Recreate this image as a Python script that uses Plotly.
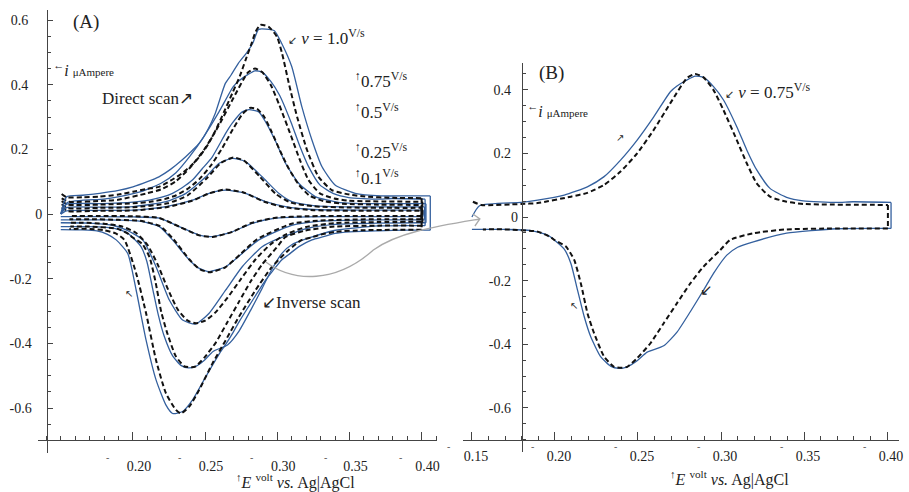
import plotly.graph_objects as go

W, H = 909, 492

# ---------------- data (E in volt, i in microampere) ----------------
# scan rate 1.0 V/s  (simulation = blue solid, experiment = black dashed)
E_sim_10 = [0.150, 0.154, 0.165, 0.177, 0.190, 0.200, 0.210, 0.218, 0.226, 0.234, 0.240, 0.246, 0.252, 0.257, 0.264, 0.268, 0.273, 0.279, 0.283, 0.287, 0.292, 0.298, 0.303, 0.310, 0.317, 0.324, 0.331, 0.340, 0.354, 0.372, 0.390, 0.406,
            0.406, 0.390, 0.370, 0.350, 0.340, 0.332, 0.324, 0.315, 0.308, 0.303, 0.297, 0.292, 0.286, 0.280, 0.274, 0.269, 0.264, 0.260, 0.2505, 0.2413, 0.2344, 0.2275, 0.2229, 0.216, 0.2091, 0.2022, 0.1964, 0.1884, 0.182, 0.175, 0.165, 0.150]
I_sim_10 = [0.000, 0.053, 0.058, 0.064, 0.073, 0.084, 0.100, 0.115, 0.138, 0.167, 0.192, 0.219, 0.262, 0.311, 0.404, 0.430, 0.466, 0.500, 0.528, 0.571, 0.572, 0.567, 0.528, 0.456, 0.332, 0.229, 0.146, 0.090, 0.064, 0.056, 0.056, 0.056,
            -0.050, -0.050, -0.052, -0.055, -0.060, -0.070, -0.080, -0.101, -0.125, -0.142, -0.175, -0.204, -0.245, -0.287, -0.330, -0.369, -0.405, -0.431, -0.503, -0.575, -0.611, -0.617, -0.591, -0.513, -0.390, -0.235, -0.122, -0.080, -0.062, -0.052, -0.049, -0.048]
E_exp_10 = [0.1506, 0.154, 0.165, 0.177, 0.190, 0.200, 0.210, 0.218, 0.226, 0.234, 0.240, 0.246, 0.252, 0.2574, 0.263, 0.2688, 0.274, 0.278, 0.282, 0.285, 0.2883, 0.2941, 0.2998, 0.3033, 0.308, 0.3137, 0.3206, 0.3286, 0.3378, 0.350, 0.3608, 0.380, 0.400,
            0.400, 0.380, 0.360, 0.340, 0.330, 0.324, 0.317, 0.3079, 0.2964, 0.2850, 0.2734, 0.2643, 0.2551, 0.2459, 0.239, 0.2332, 0.2298, 0.2229, 0.216, 0.2091, 0.2022, 0.1941, 0.188, 0.180, 0.170, 0.160, 0.156]
I_exp_10 = [0.062, 0.052, 0.052, 0.054, 0.060, 0.069, 0.078, 0.084, 0.103, 0.126, 0.148, 0.177, 0.215, 0.260, 0.315, 0.373, 0.426, 0.476, 0.525, 0.564, 0.585, 0.579, 0.548, 0.497, 0.404, 0.301, 0.198, 0.115, 0.074, 0.060, 0.054, 0.050, 0.049,
            -0.049, -0.049, -0.050, -0.055, -0.064, -0.072, -0.080, -0.111, -0.163, -0.235, -0.318, -0.390, -0.462, -0.544, -0.596, -0.617, -0.606, -0.555, -0.452, -0.307, -0.183, -0.080, -0.060, -0.050, -0.046, -0.046, -0.046]

# scan rate 0.75 V/s (also shown enlarged in panel B)
E_sim_075 = [0.150, 0.1546, 0.1796, 0.1896, 0.2056, 0.2195, 0.2296, 0.2395, 0.2495, 0.2595, 0.2695, 0.2735, 0.2795, 0.2845, 0.2895, 0.2955, 0.3015, 0.3095, 0.3155, 0.3215, 0.3295, 0.3395, 0.3495, 0.3695, 0.3795, 0.4024,
             0.4024, 0.3696, 0.3395, 0.3195, 0.3100, 0.3035, 0.2955, 0.2895, 0.2815, 0.2735, 0.2655, 0.2555, 0.2495, 0.2435, 0.2385, 0.2335, 0.2275, 0.2215, 0.2176, 0.2136, 0.2096, 0.2056, 0.1996, 0.1956, 0.1856, 0.1696, 0.150]
I_sim_075 = [0.000, 0.0355, 0.046, 0.053, 0.069, 0.095, 0.127, 0.179, 0.242, 0.315, 0.394, 0.412, 0.431, 0.443, 0.439, 0.410, 0.368, 0.284, 0.211, 0.148, 0.090, 0.062, 0.051, 0.046, 0.048, 0.046,
             -0.036, -0.037, -0.051, -0.078, -0.095, -0.120, -0.177, -0.230, -0.298, -0.362, -0.405, -0.425, -0.452, -0.471, -0.476, -0.469, -0.439, -0.376, -0.313, -0.230, -0.146, -0.101, -0.072, -0.057, -0.043, -0.039, -0.039]
E_exp_075 = [0.1506, 0.1556, 0.1796, 0.1896, 0.2096, 0.2195, 0.2296, 0.2395, 0.2495, 0.2595, 0.2695, 0.2795, 0.2845, 0.2895, 0.2955, 0.3015, 0.3095, 0.3155, 0.3215, 0.3295, 0.3395, 0.3495, 0.4005,
             0.4005, 0.3696, 0.3395, 0.3195, 0.3055, 0.2995, 0.2895, 0.2815, 0.2735, 0.2655, 0.2575, 0.2495, 0.2435, 0.2405, 0.2356, 0.2296, 0.2236, 0.2196, 0.2156, 0.2116, 0.2066, 0.1996, 0.1976, 0.1896, 0.1696, 0.1566]
I_exp_075 = [0.048, 0.038, 0.041, 0.044, 0.064, 0.076, 0.101, 0.143, 0.200, 0.274, 0.358, 0.437, 0.450, 0.439, 0.399, 0.336, 0.242, 0.169, 0.106, 0.064, 0.048, 0.041, 0.038,
             -0.036, -0.036, -0.039, -0.051, -0.072, -0.104, -0.156, -0.209, -0.271, -0.334, -0.397, -0.444, -0.471, -0.474, -0.471, -0.439, -0.366, -0.303, -0.209, -0.135, -0.093, -0.072, -0.064, -0.046, -0.039, -0.039]

# scan rate 0.5 V/s
E_sim_05 = [0.150, 0.154, 0.177, 0.200, 0.2114, 0.220, 0.2274, 0.2343, 0.2412, 0.248, 0.255, 0.2643, 0.2688, 0.2757, 0.2804, 0.2872, 0.2919, 0.2988, 0.3033, 0.3057, 0.3148, 0.3263, 0.3424, 0.3608, 0.380, 0.403,
            0.403, 0.370, 0.340, 0.320, 0.2987, 0.2895, 0.2757, 0.2643, 0.2528, 0.2436, 0.2344, 0.2252, 0.216, 0.2068, 0.1953, 0.185, 0.170, 0.150]
I_sim_05 = [0.000, 0.030, 0.032, 0.037, 0.043, 0.052, 0.064, 0.082, 0.105, 0.140, 0.177, 0.250, 0.281, 0.316, 0.323, 0.316, 0.285, 0.225, 0.180, 0.157, 0.095, 0.054, 0.036, 0.032, 0.032, 0.032,
            -0.027, -0.028, -0.032, -0.045, -0.080, -0.101, -0.163, -0.235, -0.307, -0.340, -0.328, -0.266, -0.163, -0.080, -0.049, -0.034, -0.028, -0.027]
E_exp_05 = [0.1506, 0.155, 0.177, 0.200, 0.212, 0.222, 0.230, 0.238, 0.246, 0.254, 0.262, 0.270, 0.276, 0.281, 0.286, 0.291, 0.296, 0.302, 0.308, 0.315, 0.322, 0.332, 0.345, 0.370, 0.400,
            0.400, 0.370, 0.340, 0.320, 0.305, 0.295, 0.285, 0.275, 0.265, 0.257, 0.250, 0.2436, 0.238, 0.231, 0.224, 0.217, 0.210, 0.202, 0.192, 0.180, 0.165, 0.156]
I_exp_05 = [0.040, 0.029, 0.029, 0.033, 0.038, 0.046, 0.058, 0.078, 0.108, 0.150, 0.205, 0.268, 0.310, 0.328, 0.325, 0.300, 0.255, 0.195, 0.140, 0.090, 0.058, 0.040, 0.032, 0.029, 0.028,
            -0.024, -0.025, -0.028, -0.040, -0.065, -0.095, -0.140, -0.200, -0.262, -0.305, -0.330, -0.338, -0.330, -0.295, -0.230, -0.155, -0.095, -0.058, -0.038, -0.030, -0.027, -0.027]

# scan rate 0.25 V/s
E_sim_025 = [0.150, 0.154, 0.177, 0.200, 0.2229, 0.2367, 0.2505, 0.2597, 0.2688, 0.278, 0.2895, 0.301, 0.3102, 0.325, 0.350, 0.380, 0.402,
             0.402, 0.370, 0.330, 0.310, 0.2872, 0.2757, 0.2643, 0.2528, 0.2459, 0.2390, 0.2274, 0.2183, 0.2045, 0.190, 0.170, 0.150]
I_sim_025 = [0.000, 0.020, 0.021, 0.023, 0.038, 0.064, 0.115, 0.157, 0.172, 0.162, 0.115, 0.064, 0.038, 0.026, 0.022, 0.022, 0.022,
             -0.018, -0.018, -0.022, -0.035, -0.080, -0.122, -0.163, -0.178, -0.168, -0.142, -0.080, -0.039, -0.022, -0.019, -0.018, -0.018]
E_exp_025 = [0.1506, 0.155, 0.177, 0.200, 0.224, 0.238, 0.251, 0.261, 0.2695, 0.277, 0.288, 0.299, 0.309, 0.325, 0.350, 0.380, 0.400,
             0.400, 0.370, 0.330, 0.310, 0.286, 0.275, 0.264, 0.253, 0.246, 0.239, 0.228, 0.219, 0.205, 0.190, 0.170, 0.156]
I_exp_025 = [0.030, 0.018, 0.019, 0.021, 0.033, 0.058, 0.110, 0.158, 0.175, 0.165, 0.115, 0.062, 0.036, 0.024, 0.020, 0.019, 0.019,
             -0.016, -0.016, -0.020, -0.030, -0.078, -0.122, -0.165, -0.180, -0.170, -0.140, -0.078, -0.038, -0.021, -0.018, -0.016, -0.016]

# scan rate 0.1 V/s
E_sim_01 = [0.150, 0.154, 0.177, 0.200, 0.2229, 0.2412, 0.2527, 0.2643, 0.278, 0.2919, 0.3057, 0.325, 0.360, 0.401,
            0.401, 0.360, 0.320, 0.2988, 0.2826, 0.2688, 0.255, 0.2459, 0.2321, 0.2183, 0.200, 0.175, 0.150]
I_sim_01 = [0.000, 0.010, 0.011, 0.012, 0.023, 0.043, 0.064, 0.074, 0.064, 0.038, 0.023, 0.014, 0.012, 0.012,
            -0.008, -0.008, -0.009, -0.013, -0.029, -0.055, -0.070, -0.065, -0.039, -0.013, -0.009, -0.008, -0.008]
E_exp_01 = [0.1506, 0.155, 0.177, 0.200, 0.223, 0.241, 0.253, 0.2643, 0.277, 0.291, 0.305, 0.325, 0.360, 0.400,
            0.400, 0.360, 0.320, 0.298, 0.282, 0.269, 0.255, 0.246, 0.232, 0.218, 0.200, 0.175, 0.156]
I_exp_01 = [0.020, 0.009, 0.010, 0.011, 0.021, 0.041, 0.064, 0.076, 0.066, 0.038, 0.021, 0.012, 0.010, 0.010,
            -0.006, -0.006, -0.007, -0.012, -0.028, -0.055, -0.071, -0.066, -0.039, -0.012, -0.007, -0.006, -0.006]

# tick labels
xA_ticks = [0.20, 0.25, 0.30, 0.35, 0.40]
xA_text = ["0.20", "0.25", "0.30", "0.35", "0.40"]
xB_ticks = [0.15, 0.20, 0.25, 0.30, 0.35, 0.40]
xB_text = ["0.15", "0.20", "0.25", "0.30", "0.35", "0.40"]
yA_ticks = [-0.6, -0.4, -0.2, 0.0, 0.2, 0.4, 0.6]
yA_text = ["-0.6", "-0.4", "-0.2", "0", "0.2", "0.4", "0.6"]
yB_ticks = [-0.6, -0.4, -0.2, 0.0, 0.2, 0.4]
yB_text = ["-0.6", "-0.4", "-0.2", "0", "0.2", "0.4"]

# ---------------- styling ----------------
BLUE = "#34609e"
BLACK = "#111111"
SERIF = "'Liberation Serif', 'Times New Roman', serif"
NB = "\u00a0"  # label padding (the original labels sit at uneven distances from the axis)


def pad(labels, pads):
    return [t + NB * p for t, p in zip(labels, pads)]


fig = go.Figure()

panelA = [(E_sim_01, I_sim_01, E_exp_01, I_exp_01),
          (E_sim_025, I_sim_025, E_exp_025, I_exp_025),
          (E_sim_05, I_sim_05, E_exp_05, I_exp_05),
          (E_sim_075, I_sim_075, E_exp_075, I_exp_075),
          (E_sim_10, I_sim_10, E_exp_10, I_exp_10)]


def turn_index(E):
    # index where the sweep reverses (the potential value is repeated)
    for k in range(len(E) - 1):
        if E[k] == E[k + 1]:
            return k
    return len(E) - 1


def add_curve(E, I, xa, ya, line):
    k = turn_index(E)
    smooth = dict(line, shape="spline", smoothing=0.55)
    straight = dict(line, shape="linear")
    for xs, ys, ln in ((E[:k + 1], I[:k + 1], smooth),
                       (E[k:k + 2], I[k:k + 2], straight),
                       (E[k + 1:], I[k + 1:], smooth)):
        fig.add_trace(go.Scatter(x=xs, y=ys, mode="lines", xaxis=xa, yaxis=ya,
                                 line=ln, hoverinfo="skip", showlegend=False))


def add_pair(es, is_, ee, ie, xa, ya):
    add_curve(es, is_, xa, ya, dict(color=BLUE, width=1.3))
    add_curve(ee, ie, xa, ya, dict(color=BLACK, width=2.0, dash="5px,3px"))


for es, is_, ee, ie in panelA:
    add_pair(es, is_, ee, ie, "x", "y")
add_pair(E_sim_075, I_sim_075, E_exp_075, I_exp_075, "x2", "y2")


def px2x(px):
    return px / W


def px2y(py):
    return 1 - py / H


axis_common = dict(showgrid=False, zeroline=False, showline=True, linecolor="#444", linewidth=1,
                   ticks="inside", tickcolor="#444", tickwidth=1, anchor="free",
                   tickfont=dict(family=SERIF, size=14, color="#222"))

minor_xA = [round(0.14 + 0.01 * k, 2) for k in range(28)]
minor_xB = [round(0.15 + 0.01 * k, 2) for k in range(26)]
minor_y = [round(-0.70 + 0.05 * k, 2) for k in range(28)]

fig.update_layout(
    width=W, height=H, margin=dict(l=0, r=0, t=0, b=0),
    paper_bgcolor="white", plot_bgcolor="white", showlegend=False,
    xaxis=dict(axis_common, domain=[px2x(38), px2x(439)], range=[0.1341, 0.4107],
               position=px2y(440.3), tickvals=xA_ticks, ticktext=xA_text, ticklen=8,
               ticklabelstandoff=13, ticklabelshift=6,
               minor=dict(tickvals=minor_xA, ticks="inside", ticklen=4, tickcolor="#444")),
    yaxis=dict(axis_common, domain=[px2y(453), px2y(10)], range=[-0.7392, 0.631],
               position=px2x(47.2), tickvals=yA_ticks,
               ticktext=pad(yA_text, [3, 3, 3, 0, 4, 4, 4]), ticklen=5,
               ticklabelstandoff=2,
               minor=dict(tickvals=minor_y, ticks="inside", ticklen=3, tickcolor="#444")),
    xaxis2=dict(axis_common, domain=[px2x(465), px2x(903)], range=[0.1446, 0.4072],
                position=px2y(440), tickvals=xB_ticks, ticktext=xB_text, ticklen=8,
                ticklabelstandoff=3, ticklabelshift=4,
                minor=dict(tickvals=minor_xB, ticks="inside", ticklen=4, tickcolor="#444")),
    yaxis2=dict(axis_common, domain=[px2y(452), px2y(63)], range=[-0.739, 0.4843],
                position=px2x(524), tickvals=yB_ticks,
                ticktext=pad(yB_text, [2, 2, 2, 0, 2, 2]), ticklen=5,
                ticklabelstandoff=1,
                minor=dict(tickvals=minor_y, ticks="inside", ticklen=3, tickcolor="#444")),
)


# ---------------- text ----------------
def ann(text, x, y, size=16, xanchor="center", color="#222"):
    fig.add_annotation(text=text, x=px2x(x), y=px2y(y), xref="paper", yref="paper",
                       xanchor=xanchor, yanchor="middle", showarrow=False,
                       font=dict(family=SERIF, size=size, color=color))


ann("(A)", 86, 22, 19)
ann("(B)", 554, 73, 19)
ann("<sup>←</sup><i>i</i> <span style='font-size:11px'>μAmpere</span>", 51, 69, 16, "left")
ann("<sup>←</sup><i>i</i> <span style='font-size:11px'>μAmpere</span>", 527, 110, 16, "left")
ann("Direct scan↗", 148, 99, 17)
ann("<span style='font-size:11px'>↙</span> <i>v</i> = 1.0<sup>V/s</sup>", 287, 37, 17, "left")
ann("<sup>↑</sup>0.75<sup>V/s</sup>", 355, 80, 17, "left")
ann("<sup>↑</sup>0.5<sup>V/s</sup>", 355, 111, 17, "left")
ann("<sup>↑</sup>0.25<sup>V/s</sup>", 355, 151, 17, "left")
ann("<sup>↑</sup>0.1<sup>V/s</sup>", 355, 177, 17, "left")
ann("↙Inverse scan", 313, 302, 17)
ann("↖", 130, 293, 10)
ann("<span style='font-size:11px'>↙</span> <i>v</i> = 0.75<sup>V/s</sup>", 726, 91, 17, "left")
ann("↗", 623, 137, 10)
ann("↖", 577, 305, 10)
ann("↙", 710, 290, 15)
ann("<sup>↑</sup><i>E</i> <sup>volt</sup> <i>vs.</i> Ag|AgCl", 297, 481, 16)
ann("<sup>↑</sup><i>E</i> <sup>volt</sup> <i>vs.</i> Ag|AgCl", 733, 478, 16)

# stray minus marks below the axes
for xm in [108, 180, 253, 327, 402]:
    ann("-", xm, 457, 10, color="#555")
for xm in [450, 535, 618, 702, 785, 868]:
    ann("-", xm, 446, 10, color="#555")


# ---------------- gray connector A -> B ----------------
def P(x, y):
    return f"{px2x(x):.5f},{px2y(y):.5f}"


path = f"M {P(267,262)} C {P(295,283)} {P(338,283)} {P(375,250)} C {P(400,232)} {P(440,226)} {P(482,219)}"
fig.add_shape(type="path", path=path, xref="paper", yref="paper",
              line=dict(color="#aaaaaa", width=1.3))
fig.add_shape(type="path", path=f"M {P(475,214)} L {P(482,219)} L {P(477,226)}",
              xref="paper", yref="paper", line=dict(color="#aaaaaa", width=1.3))

fig.write_html("out.html")
